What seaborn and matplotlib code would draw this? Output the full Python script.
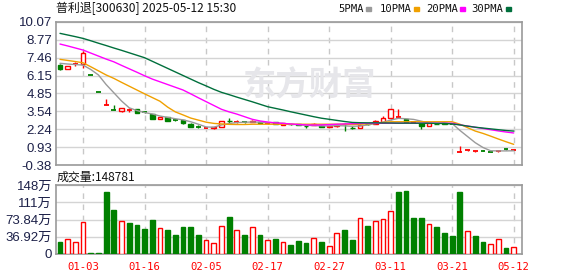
import numpy as np
import pandas as pd
import matplotlib
matplotlib.use('Agg')
import matplotlib.pyplot as plt
import seaborn as sns

# ---------------- data ----------------
title_text = '普利退[300630] 2025-05-12 15:30'
volume_title = '成交量:148781'
ma_names = ['5PMA', '10PMA', '20PMA', '30PMA']
ma_colors = ['#9a9a9a', '#f0a000', '#ff00ff', '#006f3c']

opens = [6.92, 6.61, 7.00, 6.98, 6.23, 4.98, 3.98, 3.65, 3.56, 3.63,
         3.69, 3.51, 3.32, 3.00, 3.10, 2.93, 2.88, 2.64, 2.44, 2.33,
         2.30, 2.40, 2.85, 2.74, 2.76, 2.78, 2.75, 2.67, 2.74, 2.54,
         2.62, 2.60, 2.50, 2.57, 2.50, 2.43, 2.45, 2.62, 2.33, 2.34,
         2.62, 2.61, 2.78, 3.03, 3.10, 2.98, 2.74, 2.67, 2.49, 2.64,
         2.67, 2.65, 0.57, 0.67, 0.63, 0.70, 0.62, 0.60, 0.78, 0.71]
highs = [7.00, 6.85, 7.12, 7.97, 6.23, 4.98, 4.42, 4.00, 3.80, 3.78,
         3.74, 3.58, 3.34, 3.16, 3.12, 3.00, 2.90, 2.66, 2.52, 2.42,
         2.40, 2.86, 3.03, 2.91, 2.78, 2.88, 2.78, 2.72, 2.76, 2.70,
         2.65, 2.62, 2.52, 2.70, 2.52, 2.50, 2.58, 2.67, 2.45, 2.58,
         2.66, 2.90, 3.20, 3.72, 3.69, 3.00, 2.80, 2.70, 2.70, 2.66,
         2.69, 2.67, 1.01, 0.72, 0.66, 0.71, 0.63, 0.64, 0.80, 0.75]
lows = [6.55, 6.60, 6.87, 6.73, 6.22, 4.97, 3.98, 3.64, 3.50, 3.51,
        3.40, 3.43, 2.96, 2.95, 2.84, 2.85, 2.64, 2.40, 2.36, 2.30,
        2.28, 2.38, 2.67, 2.70, 2.70, 2.74, 2.68, 2.65, 2.58, 2.52,
        2.55, 2.52, 2.35, 2.55, 2.40, 2.41, 2.43, 2.10, 2.22, 2.30,
        2.55, 2.58, 2.75, 3.00, 3.08, 2.74, 2.72, 2.27, 2.47, 2.58,
        2.58, 2.60, 0.57, 0.66, 0.58, 0.66, 0.59, 0.59, 0.75, 0.70]
closes = [6.61, 6.83, 7.02, 7.78, 6.22, 4.97, 3.98, 3.64, 3.76, 3.65,
          3.44, 3.49, 2.98, 3.15, 2.86, 2.90, 2.67, 2.42, 2.41, 2.35,
          2.37, 2.83, 2.80, 2.78, 2.73, 2.82, 2.70, 2.70, 2.60, 2.69,
          2.58, 2.55, 2.46, 2.61, 2.43, 2.47, 2.55, 2.58, 2.29, 2.54,
          2.58, 2.81, 3.05, 3.69, 3.11, 2.76, 2.77, 2.49, 2.67, 2.60,
          2.60, 2.62, 0.58, 0.70, 0.65, 0.67, 0.60, 0.63, 0.76, 0.73]

# volume in 万 (10k shares)
volumes = [26, 31.5, 26, 68.6, 1.5, 1.5, 133, 94, 70, 66.5,
           62, 53.6, 73, 55, 51.5, 41, 58, 58, 41, 30,
           23.5, 60, 79, 51, 41, 57.5, 41, 29.5, 32, 26,
           19.3, 28, 23.6, 33.6, 26, 16.4, 45, 51.5, 30, 76.5,
           60, 70, 74, 92, 133, 135, 77, 77, 64, 58,
           45, 38.6, 133, 49, 38.6, 26, 21.5, 32, 13, 14.9]
# 1 = rose vs previous close (red hollow), 0 = fell (green filled)
volume_up = [0, 1, 1, 1, 0, 0, 0, 0, 1, 0,
             0, 0, 0, 1, 0, 0, 0, 0, 0, 1,
             1, 1, 0, 1, 0, 1, 0, 1, 0, 1,
             0, 0, 0, 1, 0, 1, 1, 0, 0, 1,
             0, 1, 1, 1, 0, 0, 0, 0, 1, 0,
             0, 0, 0, 1, 0, 0, 1, 1, 0, 1]

ma5 = [7.05, 7.00, 6.96, 6.92, 6.60, 6.20, 5.50, 4.90, 4.30, 3.80,
       3.60, 3.45, 3.35, 3.20, 3.10, 3.00, 2.92, 2.78, 2.60, 2.40,
       2.38, 2.55, 2.65, 2.72, 2.75, 2.76, 2.75, 2.72, 2.70, 2.66,
       2.60, 2.56, 2.52, 2.50, 2.48, 2.47, 2.50, 2.48, 2.45, 2.47,
       2.55, 2.65, 2.75, 2.90, 3.03, 3.00, 2.95, 2.82, 2.68, 2.66,
       2.66, 2.65, 2.15, 1.70, 1.25, 0.90, 0.66, 0.65, 0.65, 0.66]
ma10 = [7.34, 7.26, 7.18, 7.09, 6.80, 6.50, 6.20, 5.95, 5.66, 5.38,
        5.10, 4.82, 4.55, 4.28, 3.85, 3.50, 3.28, 3.05, 2.90, 2.75,
        2.66, 2.62, 2.59, 2.58, 2.58, 2.60, 2.60, 2.60, 2.60, 2.60,
        2.60, 2.60, 2.60, 2.60, 2.60, 2.60, 2.60, 2.60, 2.58, 2.60,
        2.63, 2.68, 2.73, 2.78, 2.78, 2.78, 2.78, 2.78, 2.78, 2.78,
        2.78, 2.78, 2.60, 2.35, 2.10, 1.93, 1.73, 1.52, 1.32, 1.13]
ma20 = [8.46, 8.32, 8.17, 8.02, 7.80, 7.58, 7.36, 7.16, 6.90, 6.65,
        6.40, 6.14, 5.90, 5.70, 5.50, 5.30, 5.10, 4.82, 4.53, 4.25,
        3.97, 3.69, 3.50, 3.34, 3.15, 2.96, 2.84, 2.76, 2.70, 2.66,
        2.62, 2.58, 2.55, 2.54, 2.55, 2.57, 2.60, 2.62, 2.64, 2.66,
        2.67, 2.67, 2.67, 2.67, 2.67, 2.67, 2.67, 2.67, 2.67, 2.67,
        2.67, 2.67, 2.55, 2.47, 2.38, 2.29, 2.20, 2.11, 2.03, 1.96]
ma30 = [9.24, 9.12, 9.00, 8.87, 8.70, 8.52, 8.35, 8.17, 8.00, 7.82,
        7.64, 7.46, 7.20, 6.94, 6.68, 6.42, 6.16, 5.90, 5.64, 5.40,
        5.15, 4.93, 4.76, 4.58, 4.41, 4.24, 4.06, 3.88, 3.76, 3.64,
        3.51, 3.39, 3.27, 3.15, 3.04, 2.96, 2.88, 2.80, 2.73, 2.71,
        2.70, 2.70, 2.69, 2.69, 2.68, 2.68, 2.68, 2.67, 2.67, 2.66,
        2.66, 2.62, 2.55, 2.46, 2.38, 2.32, 2.26, 2.20, 2.14, 2.10]

price_ticks = [10.07, 8.77, 7.46, 6.15, 4.85, 3.54, 2.24, 0.93, -0.38]
volume_ticks = [0, 36.92, 73.84, 110.76, 147.68]
volume_tick_labels = ['0', '36.92万', '73.84万', '111万', '148万']
date_labels = ['01-03', '01-16', '02-05', '02-17', '02-27', '03-11', '03-21', '05-12']
date_bars = [3, 11, 19, 27, 35, 43, 51, 59]

# ---------------- style ----------------
sns.set_theme(style='white')
plt.rcParams['font.family'] = ['Liberation Sans', 'Noto Sans CJK SC', 'DejaVu Sans']

RED = '#ff0000'
GREEN = '#008000'
GRID = '#d4d4d4'
SPINE = '#9a9a9a'
LABEL = '#1c2048'

W, H = 578, 276
fig = plt.figure(figsize=(W / 100, H / 100), dpi=100)
fig.patch.set_facecolor('white')


def px_axes(x0, y0, x1, y1):
    return fig.add_axes([x0 / W, 1 - y1 / H, (x1 - x0) / W, (y1 - y0) / H])


ax1 = px_axes(55.5, 22, 522, 165)
ax2 = px_axes(55.5, 185, 522, 254)

n = len(closes)
idx = np.arange(n)
xlim = (-0.585, 60.08)

# ---- watermark
fig.text(309 / W, 1 - 86 / H, '东方财富', fontsize=24, color='#e6e6ea',
         family=['Noto Sans CJK SC'], fontweight='bold', ha='center', va='center', zorder=0)

# ---- candles
bw = 0.62
for i in idx:
    o, h, l, c = opens[i], highs[i], lows[i], closes[i]
    col = RED if c >= o else GREEN
    ax1.vlines(i, l, h, color=col, lw=1, zorder=3)
    if abs(c - o) < 0.04:
        ax1.hlines(c, i - bw / 2, i + bw / 2, color=col, lw=1.3, zorder=4)
    else:
        face = 'white' if col == RED else GREEN
        ax1.bar(i, abs(c - o), bottom=min(o, c), width=bw, facecolor=face,
                edgecolor=col, linewidth=1, zorder=4)

# ---- moving averages with seaborn
ma_df = pd.DataFrame({
    'idx': np.tile(idx, 4),
    'value': np.concatenate([ma5, ma10, ma20, ma30]),
    'ma': np.repeat(ma_names, n),
})
sns.lineplot(data=ma_df, x='idx', y='value', hue='ma', hue_order=ma_names,
             palette=ma_colors, legend=False, ax=ax1, linewidth=1, zorder=5)

ax1.set_xlim(*xlim)
ax1.set_ylim(-0.38, 10.07)
ax1.set_yticks(price_ticks)
ax1.set_yticklabels([f'{v:.2f}' for v in price_ticks])
ax1.set_xticks(date_bars)
ax1.set_xticklabels([])
ax1.set_xlabel('')
ax1.set_ylabel('')

# ---- volume
vol_face = ['white' if u else GREEN for u in volume_up]
vol_edge = [RED if u else GREEN for u in volume_up]
ax2.bar(idx, volumes, width=bw, color=vol_face, edgecolor=vol_edge, linewidth=1, zorder=3)
ax2.set_xlim(*xlim)
ax2.set_ylim(0, 147.68)
ax2.set_yticks(volume_ticks)
ax2.set_yticklabels(volume_tick_labels)
ax2.set_xticks(date_bars)
ax2.set_xticklabels(date_labels, family='DejaVu Sans Mono', fontsize=7.6, color=RED)

for ax in (ax1, ax2):
    ax.set_facecolor('none')
    ax.yaxis.grid(True, color=GRID, lw=1, ls='-', zorder=1)
    ax.xaxis.grid(True, color='#c8c8c8', lw=1, ls=(0, (4, 4)), zorder=1)
    ax.set_axisbelow(True)
    for s in ax.spines.values():
        s.set_color(SPINE)
        s.set_linewidth(1.2)
    ax.tick_params(axis='both', length=0)
    ax.tick_params(axis='y', pad=2.5, labelsize=9.5, labelcolor=LABEL)
    ax.tick_params(axis='x', pad=6)

# ---- texts
def ftext(x, y, s, **kw):
    fig.text(x / W, 1 - y / H, s, va='center', **kw)

ftext(56.5, 8.5, title_text, fontsize=8.6, color='#111111',
      family=['Noto Sans CJK SC', 'DejaVu Sans'])
ftext(56.5, 177, volume_title, fontsize=8.6, color='#111111',
      family=['Noto Sans CJK SC', 'DejaVu Sans'])

legend_x = [338, 380, 426, 471.5]
square_x = [366, 414, 459.5, 505.5]
for name, col, tx, sx in zip(ma_names, ma_colors, legend_x, square_x):
    ftext(tx, 8.5, name, fontsize=7.6, color='#111111', family='DejaVu Sans Mono')
    fig.patches.append(plt.Rectangle((sx / W, 1 - 10.5 / H), 5 / W, 3.5 / H,
                                     transform=fig.transFigure, color=col, figure=fig))

fig.savefig('out.png', dpi=100, facecolor='white')
